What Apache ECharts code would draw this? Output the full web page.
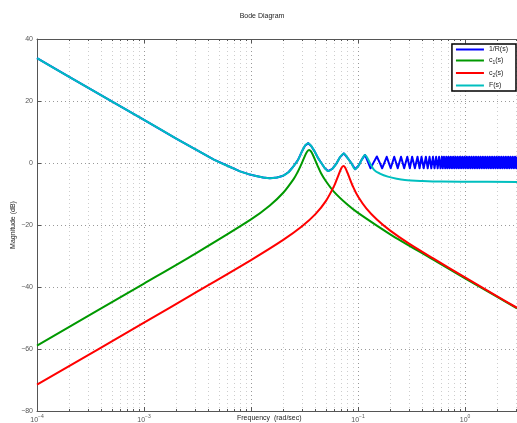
<!DOCTYPE html>
<html>
<head>
<meta charset="utf-8">
<script src="https://cdn.jsdelivr.net/npm/echarts@6/dist/echarts.min.js"></script>
<style>
  html, body { margin: 0; padding: 0; background: #fff; }
  #chart { width: 517px; height: 423px; }
</style>
</head>
<body>
<div id="chart"></div>
<script>
// [frequency (rad/sec), magnitude (dB)]
var sharedLow = [
  [0.0001, 33.8], [0.0002, 27.8], [0.0005, 19.9], [0.001, 13.9], [0.002, 7.9],
  [0.003, 4.5], [0.0045, 1.1], [0.0064, -1.3], [0.0079, -2.7], [0.0095, -3.6],
  [0.0109, -4.1], [0.013, -4.7], [0.015, -4.9], [0.0175, -4.7], [0.02, -4.1],
  [0.0225, -2.9], [0.0248, -1.2], [0.0275, 1.0], [0.0298, 3.6], [0.032, 5.6],
  [0.0343, 6.4], [0.0365, 5.5], [0.0395, 3.6], [0.0425, 1.5], [0.0456, -0.1],
  [0.049, -1.7], [0.0526, -2.6], [0.0575, -1.9], [0.063, -0.1], [0.068, 1.9],
  [0.0737, 3.1], [0.080, 1.6], [0.0868, -0.1], [0.094, -2.0], [0.101, -0.9],
  [0.108, 1.0], [0.1162, 2.6]
];
var invRTail = [
  [0.124, 0.3], [0.131, -1.7], [0.140, 0.2], [0.150, 2.1], [0.159, 0.2], [0.168, -1.7],
  [0.177, 0.2], [0.1854, 2.0], [0.202, -1.7], [0.218, 2.0], [0.235, -1.7], [0.2523, 2.0],
  [0.270, -1.7], [0.2887, 2.0],
  [0.305, -1.7], [0.3204, 2.0], [0.340, -1.7], [0.3597, 2.0], [0.376, -1.7], [0.392, 2.0],
  [0.411, -1.7], [0.4307, 2.0], [0.448, -1.7], [0.466, 2.0], [0.484, -1.7], [0.5015, 2.0],
  [0.519, -1.7], [0.537, 2.0], [0.555, -1.7], [0.5725, 2.0], [0.590, -1.7], [0.608, 2.0],
  [0.620, -1.7], [0.636, 2.0], [0.652, -1.7], [0.668, 2.0], [0.684, -1.7], [0.701, 2.0],
  [0.719, -1.7], [0.737, 2.0], [0.755, -1.7], [0.774, 2.0], [0.793, -1.7], [0.813, 2.0],
  [0.833, -1.7], [0.854, 2.0], [0.875, -1.7], [0.897, 2.0], [0.920, -1.7], [0.943, 2.0],
  [0.966, -1.7], [0.990, 2.0], [1.015, -1.7], [1.040, 2.0], [1.066, -1.7], [1.093, 2.0],
  [1.120, -1.7], [1.148, 2.0], [1.177, -1.7], [1.206, 2.0], [1.236, -1.7], [1.267, 2.0],
  [1.299, -1.7], [1.331, 2.0], [1.364, -1.7], [1.398, 2.0], [1.433, -1.7], [1.469, 2.0],
  [1.506, -1.7], [1.544, 2.0], [1.582, -1.7], [1.622, 2.0], [1.662, -1.7], [1.704, 2.0],
  [1.746, -1.7], [1.790, 2.0], [1.835, -1.7], [1.881, 2.0], [1.928, -1.7], [1.976, 2.0],
  [2.025, -1.7], [2.076, 2.0], [2.128, -1.7], [2.181, 2.0], [2.235, -1.7], [2.291, 2.0],
  [2.349, -1.7], [2.407, 2.0], [2.467, -1.7], [2.529, 2.0], [2.592, -1.7], [2.657, 2.0],
  [2.724, -1.7], [2.792, 2.0], [2.862, -1.7], [2.933, 2.0], [3.006, -1.7], [3.06, 2.0]
];
// where the oscillation of 1/R(s) is too dense to resolve: a solid band
var invRBandTop = [[0.66, 2.0], [3.06, 2.0]];
var invRBandBottom = -1.7;
var fTail = [
  [0.124, 1.2], [0.129, 0.0], [0.142, -2.3], [0.16, -3.4], [0.19, -4.4], [0.23, -5.1],
  [0.274, -5.5], [0.4, -5.8], [0.6, -6.0], [1.0, -6.05], [3.06, -6.1]
];
var c1 = [
  [0.0001, -58.9], [0.001, -38.9], [0.003, -29.3], [0.01, -18.2], [0.015, -13.7],
  [0.02, -9.6], [0.025, -5.2], [0.027, -3.2], [0.029, -1.0], [0.032, 2.4], [0.0335, 3.7],
  [0.0349, 4.2], [0.0362, 3.8], [0.038, 2.5], [0.042, -1.0], [0.045, -3.2], [0.05, -5.8],
  [0.06, -9.4], [0.08, -13.5], [0.1, -16.1], [0.2, -23.0], [0.5, -31.1], [1, -37.2],
  [2, -43.2], [3.06, -46.9]
];
var c2 = [
  [0.0001, -71.5], [0.001, -51.5], [0.003, -41.9], [0.01, -31.3], [0.02, -24.8],
  [0.03, -20.4], [0.04, -16.5], [0.05, -12.3], [0.06, -7.3], [0.065, -4.3], [0.07, -1.6],
  [0.073, -0.95], [0.076, -1.5], [0.08, -3.3], [0.09, -7.7], [0.1, -10.8], [0.12, -14.7],
  [0.15, -18.2], [0.2, -21.8], [0.3, -26.0], [0.5, -30.7], [1, -36.9], [2, -43.0],
  [3.06, -46.7]
];
var seriesNames = ['1/R(s)', 'c1(s)', 'c2(s)', 'F(s)'];
var seriesColors = ['#0000ff', '#009900', '#ff0000', '#00bfbf'];
var legendLabels = ['1/R(s)', 'c{s|1}(s)', 'c{s|2}(s)', 'F(s)'];
var hiddenDecades = [-2]; // covered by the x-axis title in the original

var invR = sharedLow.concat(invRTail);
var F = sharedLow.concat(fTail);
var seriesData = [invR, c1, c2, F];

var font = '"Liberation Sans", Arial, sans-serif';
var chart = echarts.init(document.getElementById('chart'));

function xAxisCfg(pos, showLabel) {
  return {
    type: 'log',
    position: pos,
    min: 0.0001,
    max: 3.06,
    logBase: 10,
    axisLine: { show: true, onZero: false, lineStyle: { color: '#555', width: 1 } },
    axisTick: { show: true, inside: true, length: 4, lineStyle: { color: '#555' } },
    minorTick: { show: true, splitNumber: 9, length: 2, lineStyle: { color: '#555' } },
    splitLine: { show: showLabel, lineStyle: { color: '#999', type: [1, 3] } },
    minorSplitLine: { show: showLabel, lineStyle: { color: '#cdcdcd', type: [1, 3] } },
    axisLabel: {
      show: showLabel,
      margin: 3,
      color: '#555',
      fontFamily: font,
      formatter: function (v) {
        var l = Math.log10(v);
        var e = Math.round(l);
        if (Math.abs(l - e) > 0.01 || hiddenDecades.indexOf(e) >= 0) return '';
        return '{b|10}{e|' + (e < 0 ? '\u2212' + (-e) : e) + '}';
      },
      rich: {
        b: { fontSize: 7, lineHeight: 10, verticalAlign: 'bottom', color: '#555', fontFamily: font },
        e: { fontSize: 5, lineHeight: 10, verticalAlign: 'top', color: '#555', fontFamily: font }
      }
    }
  };
}

var series = seriesData.map(function (d, i) {
  return {
    name: seriesNames[i],
    type: 'line',
    data: d,
    symbol: 'none',
    smooth: i === 0 ? false : 0.3,
    clip: true,
    lineStyle: { color: seriesColors[i], width: 2, join: 'round' },
    itemStyle: { color: seriesColors[i] },
    z: 2 + i
  };
});
series.splice(1, 0, {
  name: seriesNames[0],
  type: 'line',
  data: invRBandTop,
  symbol: 'none',
  clip: true,
  lineStyle: { width: 0, color: seriesColors[0] },
  itemStyle: { color: seriesColors[0] },
  areaStyle: { color: seriesColors[0], opacity: 1, origin: invRBandBottom },
  z: 2
});

chart.setOption({
  animation: false,
  backgroundColor: '#fff',
  title: {
    text: 'Bode Diagram',
    left: 257,
    top: 8,
    textAlign: 'center',
    textStyle: { fontSize: 7, fontWeight: 'normal', color: '#222', fontFamily: font }
  },
  grid: { left: 37, right: 0, top: 39, bottom: 12, containLabel: false, outerBoundsMode: 'none' },
  legend: {
    orient: 'vertical',
    right: 1,
    top: 44,
    data: seriesNames,
    icon: 'rect',
    itemWidth: 28,
    itemHeight: 2,
    itemGap: 4,
    padding: [2, 8, 2, 4],
    borderColor: '#000',
    borderWidth: 1.5,
    borderRadius: 0,
    backgroundColor: '#fff',
    formatter: function (name) {
      return legendLabels[seriesNames.indexOf(name)];
    },
    textStyle: {
      fontSize: 7,
      color: '#222',
      fontFamily: font,
      rich: {
        s: { fontSize: 5, verticalAlign: 'bottom', lineHeight: 10, fontFamily: font, color: '#222' }
      }
    }
  },
  xAxis: [xAxisCfg('bottom', true), xAxisCfg('top', false)],
  yAxis: {
    type: 'value',
    min: -80,
    max: 40,
    interval: 20,
    name: 'Magnitude (dB)',
    nameLocation: 'middle',
    nameGap: 20,
    nameMoveOverlap: false,
    nameTextStyle: { fontSize: 7, color: '#222', fontFamily: font },
    axisLine: { show: true, onZero: false, lineStyle: { color: '#555', width: 1 } },
    axisTick: { show: true, inside: true, length: 4, lineStyle: { color: '#555' } },
    splitLine: { show: true, lineStyle: { color: '#999', type: [1, 3] } },
    axisLabel: {
      margin: 4,
      fontSize: 7,
      color: '#555',
      fontFamily: font,
      formatter: function (v) { return v < 0 ? '\u2212' + (-v) : String(v); }
    }
  },
  graphic: [{
    type: 'text',
    left: 237,
    top: 415,
    style: { text: 'Frequency  (rad/sec)', fontSize: 7, fill: '#222', fontFamily: font }
  }],
  series: series
});
</script>
</body>
</html>
